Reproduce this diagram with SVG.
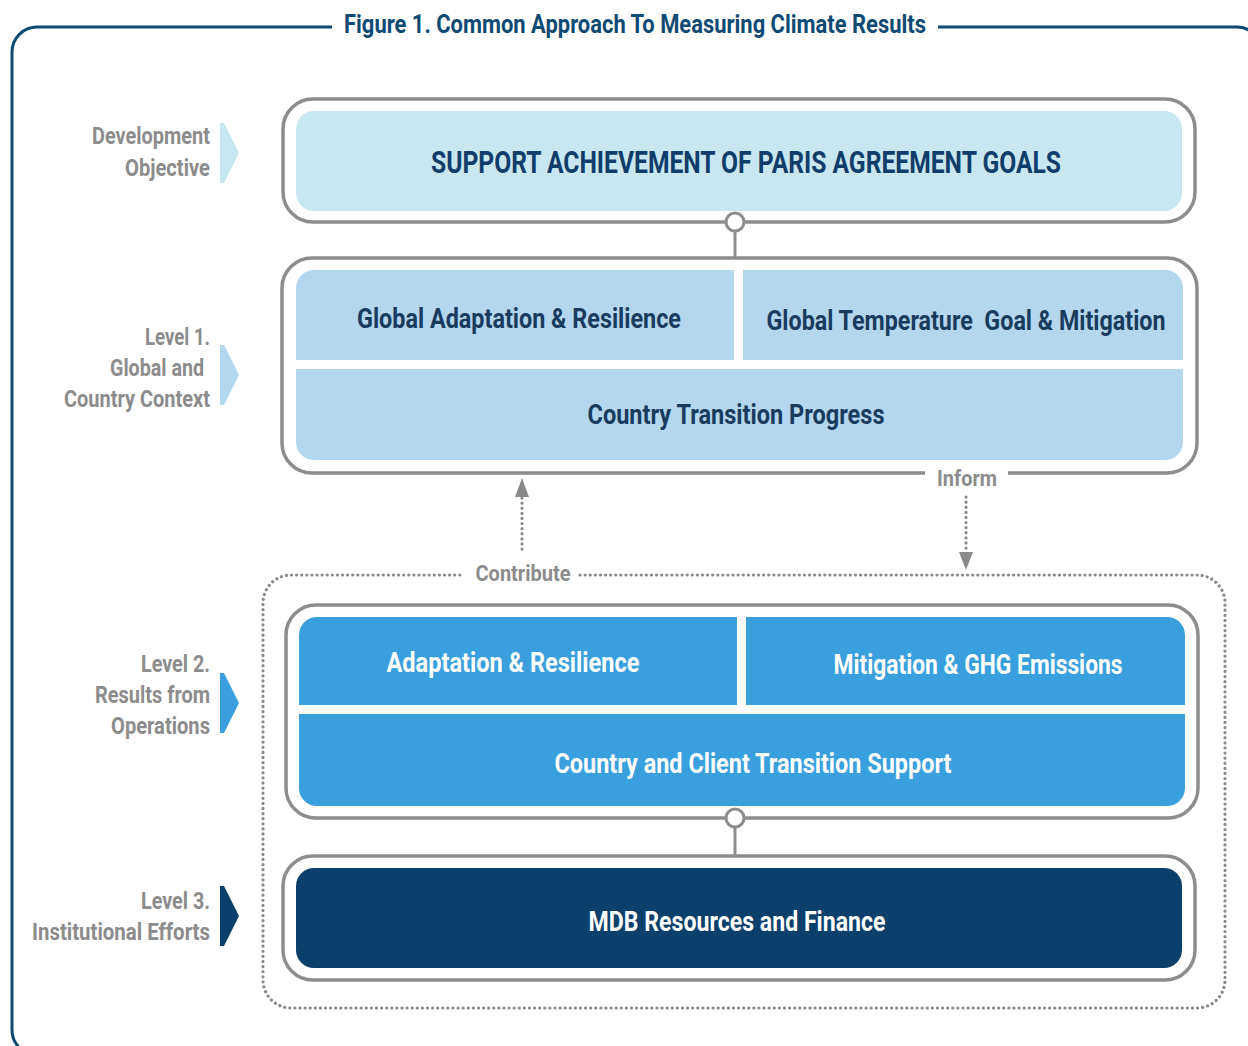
<svg xmlns="http://www.w3.org/2000/svg" width="1248" height="1046" viewBox="0 0 1248 1046">
<style>
text{font-family:Roboto,"Liberation Sans",sans-serif;font-weight:700;}
.frame{fill:none;stroke:#0f4a75;stroke-width:3;}
.title{fill:#0f4a75;font-size:26px;}
.box{fill:#fff;stroke:#8d8d8d;stroke-width:3.5;}
.lbl{fill:#8c8c8c;font-size:23px;text-anchor:end;}
.c0{fill:#c9e7f0;}
.c1{fill:#b3d7ef;}
.c2{fill:#3a9fdd;}
.c3{fill:#0b406c;}
.t1{fill:#173c60;font-size:28px;text-anchor:middle;}
.tw{fill:#fff;font-size:28px;text-anchor:middle;}
.conn{fill:none;stroke:#8d8d8d;stroke-width:3;}
.dot{fill:none;stroke:#8a8a8a;stroke-width:3.2;stroke-dasharray:0.1 5;stroke-linecap:round;}
.arrow{fill:#8a8a8a;}
.cl{fill:#8c8c8c;font-size:22px;text-anchor:middle;}
.knob{fill:#fff;stroke:#8d8d8d;stroke-width:3;}
</style>

<g id="frame">
<path class="frame" d="M332,27 H37 A25,25 0 0 0 12,52 V1030 A25,25 0 0 0 37,1055"/>
<path class="frame" d="M938,27 H1237 A25,25 0 0 1 1262,52"/>
<text class="title" x="635" y="33" text-anchor="middle" textLength="582" lengthAdjust="spacingAndGlyphs">Figure 1. Common Approach To Measuring Climate Results</text>
</g>

<g id="side-labels">
<text class="lbl" x="210" y="144" textLength="118" lengthAdjust="spacingAndGlyphs">Development</text>
<text class="lbl" x="210" y="176" textLength="85" lengthAdjust="spacingAndGlyphs">Objective</text>
<polygon class="c0" points="220,123 224,123 239,153 224,183 220,183"/>
<text class="lbl" x="210" y="345" textLength="65" lengthAdjust="spacingAndGlyphs">Level 1.</text>
<text class="lbl" x="204" y="376" textLength="94" lengthAdjust="spacingAndGlyphs">Global and</text>
<text class="lbl" x="210" y="407" textLength="146" lengthAdjust="spacingAndGlyphs">Country Context</text>
<polygon class="c1" points="220,345 224,345 239,375 224,405 220,405"/>
<text class="lbl" x="210" y="672" textLength="69" lengthAdjust="spacingAndGlyphs">Level 2.</text>
<text class="lbl" x="210" y="703" textLength="115" lengthAdjust="spacingAndGlyphs">Results from</text>
<text class="lbl" x="210" y="734" textLength="99" lengthAdjust="spacingAndGlyphs">Operations</text>
<polygon class="c2" points="220,673 224,673 239,703 224,733 220,733"/>
<text class="lbl" x="210" y="909" textLength="69" lengthAdjust="spacingAndGlyphs">Level 3.</text>
<text class="lbl" x="210" y="940" textLength="178" lengthAdjust="spacingAndGlyphs">Institutional Efforts</text>
<polygon class="c3" points="220,886 224,886 239,916 224,946 220,946"/>
</g>

<g id="goal">
<rect class="box" x="283" y="99" width="912" height="123" rx="30"/>
<rect class="c0" x="296" y="111" width="886" height="100" rx="18"/>
<text x="746" y="173" fill="#0f3e6c" font-size="32" text-anchor="middle" textLength="630" lengthAdjust="spacingAndGlyphs">SUPPORT ACHIEVEMENT OF PARIS AGREEMENT GOALS</text>
</g>

<g id="level1">
<path class="box" d="M1008,473 H1167 A30,30 0 0 0 1197,443 V288 A30,30 0 0 0 1167,258 H312 A30,30 0 0 0 282,288 V443 A30,30 0 0 0 312,473 H925"/>
<path class="c1" d="M734,270 V360 H296 V288 A18,18 0 0 1 314,270 Z"/>
<path class="c1" d="M743,270 H1165 A18,18 0 0 1 1183,288 V360 H743 Z"/>
<path class="c1" d="M296,369 H1183 V442 A18,18 0 0 1 1165,460 H314 A18,18 0 0 1 296,442 Z"/>
<text class="t1" x="519" y="328" textLength="324" lengthAdjust="spacingAndGlyphs">Global Adaptation &amp; Resilience</text>
<text class="t1" x="966" y="330" textLength="399" lengthAdjust="spacingAndGlyphs" xml:space="preserve">Global Temperature  Goal &amp; Mitigation</text>
<text class="t1" x="736" y="424" textLength="297" lengthAdjust="spacingAndGlyphs">Country Transition Progress</text>
</g>

<g id="level2">
<rect class="box" x="286" y="605" width="912" height="213" rx="30"/>
<path class="c2" d="M737,617 V705 H299 V635 A18,18 0 0 1 317,617 Z"/>
<path class="c2" d="M746,617 H1167 A18,18 0 0 1 1185,635 V705 H746 Z"/>
<path class="c2" d="M299,714 H1185 V788 A18,18 0 0 1 1167,806 H317 A18,18 0 0 1 299,788 Z"/>
<text class="tw" x="513" y="672" textLength="253" lengthAdjust="spacingAndGlyphs">Adaptation &amp; Resilience</text>
<text class="tw" x="978" y="674" textLength="289" lengthAdjust="spacingAndGlyphs">Mitigation &amp; GHG Emissions</text>
<text class="tw" x="753" y="773" textLength="397" lengthAdjust="spacingAndGlyphs">Country and Client Transition Support</text>
</g>

<g id="level3">
<rect class="box" x="283" y="856" width="912" height="124" rx="30"/>
<rect class="c3" x="296" y="868" width="886" height="100" rx="18"/>
<text class="tw" x="737" y="931" textLength="297" lengthAdjust="spacingAndGlyphs">MDB Resources and Finance</text>
</g>

<g id="connectors">
<path class="dot" d="M580,575 H1197 A28,28 0 0 1 1225,603 V980 A28,28 0 0 1 1197,1008 H291 A28,28 0 0 1 263,980 V603 A28,28 0 0 1 291,575 H464"/>
<text class="cl" x="523" y="581" textLength="95" lengthAdjust="spacingAndGlyphs">Contribute</text>
<line class="dot" x1="522" y1="498" x2="522" y2="553"/>
<polygon class="arrow" points="522,478 529,497 515,497"/>
<text class="cl" x="967" y="486" textLength="60" lengthAdjust="spacingAndGlyphs">Inform</text>
<line class="dot" x1="966" y1="497" x2="966" y2="553"/>
<polygon class="arrow" points="966,570 973,552 959,552"/>
<line class="conn" x1="735" y1="231" x2="735" y2="258"/>
<circle class="knob" cx="735" cy="222" r="9"/>
<line class="conn" x1="735" y1="827" x2="735" y2="856"/>
<circle class="knob" cx="735" cy="818" r="9"/>
</g>
</svg>
